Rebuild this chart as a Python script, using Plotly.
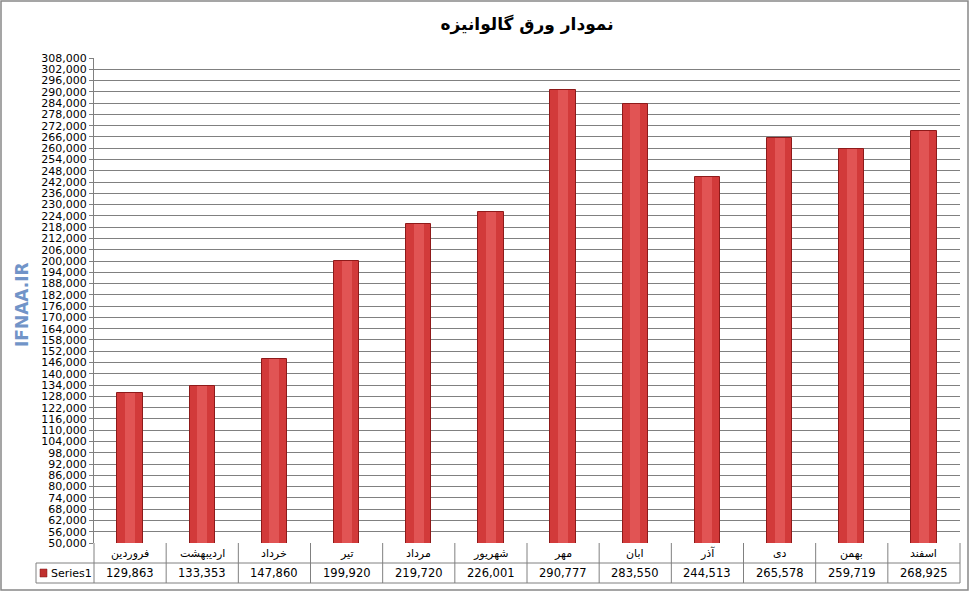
import plotly.graph_objects as go

categories = ["فروردین", "اردیبهشت", "خرداد", "تیر", "مرداد", "شهریور", "مهر", "ابان", "آذر", "دی", "بهمن", "اسفند"]
values = [129863, 133353, 147860, 199920, 219720, 226001, 290777, 283550, 244513, 265578, 259719, 268925]
series_name = "Series1"
y_ticks = list(range(50000, 308001, 6000))

W, H = 969, 592
L, R, T, B = 94, 9, 58, 49
pw, ph = W - L - R, H - T - B
def px2x(px): return (px - L) / pw
def py2y(py): return (H - B - py) / ph

fig = go.Figure()
fig.add_bar(x=list(range(len(categories))), y=values, width=0.35,
            marker=dict(color="#d23a3a", line=dict(color="#8e1a1a", width=1)))
fig.add_bar(x=list(range(len(categories))), y=values, width=0.14,
            marker=dict(color="rgba(240,110,110,0.5)", line=dict(width=0)), hoverinfo="skip")

n = len(categories)
shapes = []
gl = dict(color="#808080", width=1)
y0, y1, y2 = 0, py2y(563), py2y(583)
xl = px2x(36)
shapes.append(dict(type="line", xref="paper", yref="paper", x0=xl, x1=1, y0=y1, y1=y1, line=gl))
shapes.append(dict(type="line", xref="paper", yref="paper", x0=xl, x1=1, y0=y2, y1=y2, line=gl))
shapes.append(dict(type="line", xref="paper", yref="paper", x0=xl, x1=xl, y0=y1, y1=y2, line=gl))
for i in range(n + 1):
    xx = i / n
    shapes.append(dict(type="line", xref="paper", yref="paper", x0=xx, x1=xx, y0=0, y1=y2, line=gl))
shapes.append(dict(type="rect", xref="paper", yref="paper", x0=px2x(1), x1=px2x(968),
                   y0=py2y(590), y1=py2y(1), line=dict(color="#888888", width=1.5)))
shapes.append(dict(type="rect", xref="paper", yref="paper", x0=px2x(40), x1=px2x(47),
                   y0=py2y(577), y1=py2y(569), fillcolor="#c0302f", line=dict(color="#7a1515", width=0.5)))

ann = []
f = dict(family="DejaVu Sans", size=11, color="#000")
for i, (c, v) in enumerate(zip(categories, values)):
    xc = (i + 0.5) / n
    ann.append(dict(text=c, x=xc, y=(y0 + y1) / 2, xref="paper", yref="paper", showarrow=False, font=f,
                    xanchor="center", yanchor="middle"))
    ann.append(dict(text=f"{v:,}", x=xc, y=(y1 + y2) / 2, xref="paper", yref="paper", showarrow=False,
                    xanchor="center", yanchor="middle",
                    font=dict(family="DejaVu Sans", size=11.5, color="#000")))
ann.append(dict(text=series_name, x=px2x(49), y=(y1 + y2) / 2, xref="paper", yref="paper", xanchor="left",
                yanchor="middle", showarrow=False, font=f))
ann.append(dict(text="<b>IFNAA.IR</b>", x=px2x(22), y=py2y(305), xref="paper", yref="paper", textangle=-90,
                xanchor="center", yanchor="middle",
                showarrow=False, font=dict(family="DejaVu Sans", size=17, color="#7194c8")))

fig.update_layout(
    width=W, height=H, margin=dict(l=L, r=R, t=T, b=B, autoexpand=False),
    paper_bgcolor="white", plot_bgcolor="white", showlegend=False, barmode="overlay",
    title=dict(text="<b>نمودار ورق گالوانیزه</b>", x=0.5, xref="paper", y=1 - 24 / H, yanchor="middle",
               font=dict(family="DejaVu Sans", size=17, color="#000")),
    xaxis=dict(range=[-0.5, n - 0.5], showticklabels=False, showgrid=False, zeroline=False, ticks=""),
    yaxis=dict(range=[50000, 308000], tickvals=y_ticks, tickformat=",d", showgrid=True,
               gridcolor="#808080", gridwidth=1, showline=True, linecolor="#808080", ticks="outside",
               ticklen=4, tickcolor="#808080", zeroline=False,
               tickfont=dict(family="DejaVu Sans", size=11, color="#000")),
    shapes=shapes, annotations=ann, bargap=0,
)
fig.write_html("out.html", config={"displayModeBar": False},
               post_script="document.body.style.margin='0';document.body.style.overflow='hidden';")
